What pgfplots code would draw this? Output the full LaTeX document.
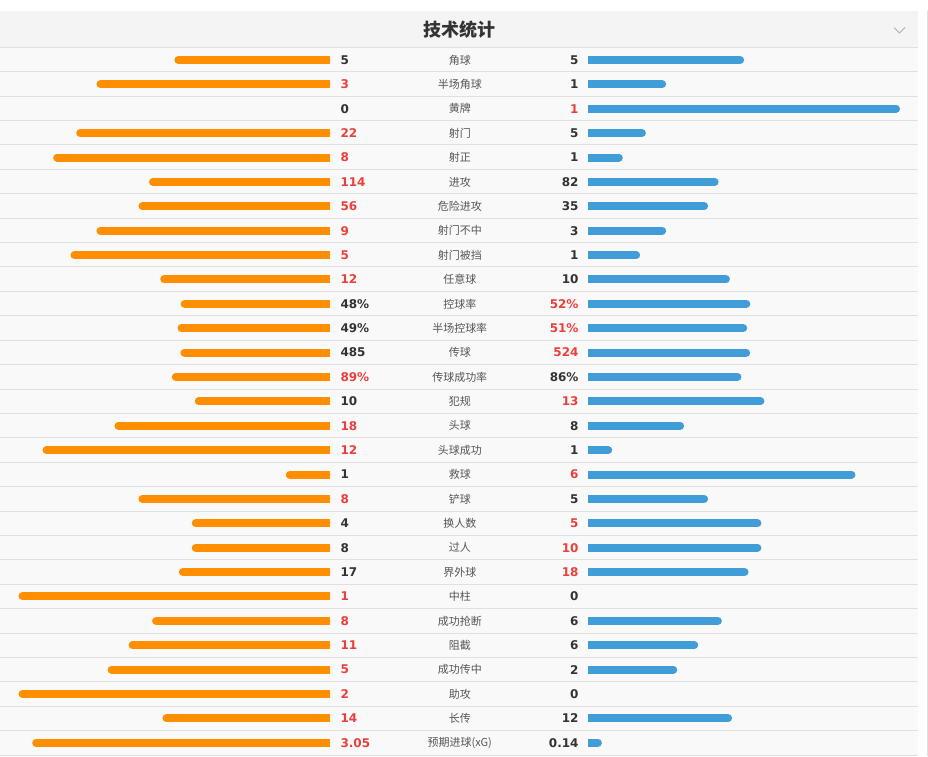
\documentclass[border=0pt]{standalone}
\usepackage{pgfplots}
\pgfplotsset{compat=1.18}
\usepackage{pgfplotstable}
\usepackage{fontspec}
\setmainfont{DejaVu Sans}
\newfontfamily\cjk{Noto Sans CJK SC}
\definecolor{borange}{RGB}{255,143,0}
\definecolor{bblue}{RGB}{64,157,216}
\definecolor{wred}{RGB}{232,64,60}
\definecolor{dk}{RGB}{51,51,51}
\definecolor{lab}{RGB}{85,85,85}
\definecolor{rowbg}{RGB}{249,249,249}
\definecolor{headbg}{RGB}{244,244,244}
\definecolor{sep}{RGB}{224,224,224}

\pgfplotstableread[col sep=semicolon]{
name;L;R;Ls;Rs
角球;5;5;5;5
半场角球;3;1;3;1
黄牌;0;1;0;1
射门;22;5;22;5
射正;8;1;8;1
进攻;114;82;114;82
危险进攻;56;35;56;35
射门不中;9;3;9;3
射门被挡;5;1;5;1
任意球;12;10;12;10
控球率;48;52;48\%;52\%
半场控球率;49;51;49\%;51\%
传球;485;524;485;524
传球成功率;89;86;89\%;86\%
犯规;10;13;10;13
头球;18;8;18;8
头球成功;12;1;12;1
救球;1;6;1;6
铲球;8;5;8;5
换人数;4;5;4;5
过人;8;10;8;10
界外球;17;18;17;18
中柱;1;0;1;0
成功抢断;8;6;8;6
阻截;11;6;11;6
成功传中;5;2;5;2
助攻;2;0;2;0
长传;14;12;14;12
预期进球(xG);3.05;0.14;3.05;0.14
}\stats

\begin{document}
\begin{tikzpicture}
\begin{axis}[
  width=928pt, height=756pt, scale only axis,
  xmin=0, xmax=928, ymin=0, ymax=756, y dir=reverse,
  hide axis, clip=false,
]
% backgrounds
\fill[white] (axis cs:0,0) rectangle (axis cs:928,756);
\fill[headbg] (axis cs:0,11) rectangle (axis cs:918,47.5);
\fill[rowbg] (axis cs:0,47.5) rectangle (axis cs:918,756);
\draw[sep, line width=1pt] (axis cs:927.5,11) -- (axis cs:927.5,756);
\pgfplotsinvokeforeach{0,...,29}{
  \draw[sep, line width=1pt] (axis cs:0,{floor(47.3+24.41*#1)+0.5}) -- (axis cs:918,{floor(47.3+24.41*#1)+0.5});
}
% chevron
\draw[black!30, line width=0.8pt] (axis cs:894,27.5) -- (axis cs:899.5,33) -- (axis cs:905,27.5);
% title
\node[text=dk, font=\cjk\bfseries\fontsize{18}{20}\selectfont] at (axis cs:459.5,30) {技术统计};

% left bars: rounded body + square inner end
\addplot[-, draw=borange, line width=8pt,
  quiver={u={-(312*\thisrow{L}/(\thisrow{L}+\thisrow{R})-8)}, v=0,
  every arrow/.append style={-, line cap=round, line width=8pt}},
  restrict expr to domain={\thisrow{L}}{0.00001:100000}]
  table[x expr=326, y expr=60+24.4*\coordindex] {\stats};
\addplot[-, draw=borange, line width=8pt,
  quiver={u={-8}, v=0,
  every arrow/.append style={-, line cap=butt, line width=8pt}},
  restrict expr to domain={\thisrow{L}}{0.00001:100000}]
  table[x expr=330, y expr=60+24.4*\coordindex] {\stats};
% right bars
\addplot[-, draw=bblue, line width=8pt,
  quiver={u={312*\thisrow{R}/(\thisrow{L}+\thisrow{R})-8}, v=0,
  every arrow/.append style={-, line cap=round, line width=8pt}},
  restrict expr to domain={\thisrow{R}}{0.00001:100000}]
  table[x expr=592, y expr=60+24.4*\coordindex] {\stats};
\addplot[-, draw=bblue, line width=8pt,
  quiver={u={8}, v=0,
  every arrow/.append style={-, line cap=butt, line width=8pt}},
  restrict expr to domain={\thisrow{R}}{0.00001:100000}]
  table[x expr=588, y expr=60+24.4*\coordindex] {\stats};

% center labels
\addplot[draw=none, mark=none, nodes near coords, point meta=explicit symbolic,
  every node near coord/.append style={anchor=center, inner sep=0pt, text=lab, font=\cjk\fontsize{11}{13}\selectfont}]
  table[x expr=459.5, y expr=60+24.4*\coordindex, meta=name] {\stats};
% left numbers
\addplot[draw=none, mark=none, nodes near coords, point meta=explicit symbolic,
  restrict expr to domain={\thisrow{L}-\thisrow{R}}{0.00001:100000},
  every node near coord/.append style={anchor=west, inner sep=0pt, text=wred, font=\bfseries\fontsize{12}{14}\selectfont}]
  table[x expr=340, y expr=60+24.4*\coordindex, meta=Ls] {\stats};
\addplot[draw=none, mark=none, nodes near coords, point meta=explicit symbolic,
  restrict expr to domain={\thisrow{L}-\thisrow{R}}{-100000:0},
  every node near coord/.append style={anchor=west, inner sep=0pt, text=dk, font=\bfseries\fontsize{12}{14}\selectfont}]
  table[x expr=340, y expr=60+24.4*\coordindex, meta=Ls] {\stats};
% right numbers
\addplot[draw=none, mark=none, nodes near coords, point meta=explicit symbolic,
  restrict expr to domain={\thisrow{R}-\thisrow{L}}{0.00001:100000},
  every node near coord/.append style={anchor=east, inner sep=0pt, text=wred, font=\bfseries\fontsize{12}{14}\selectfont}]
  table[x expr=578.5, y expr=60+24.4*\coordindex, meta=Rs] {\stats};
\addplot[draw=none, mark=none, nodes near coords, point meta=explicit symbolic,
  restrict expr to domain={\thisrow{R}-\thisrow{L}}{-100000:0},
  every node near coord/.append style={anchor=east, inner sep=0pt, text=dk, font=\bfseries\fontsize{12}{14}\selectfont}]
  table[x expr=578.5, y expr=60+24.4*\coordindex, meta=Rs] {\stats};
\end{axis}
\end{tikzpicture}
\end{document}
